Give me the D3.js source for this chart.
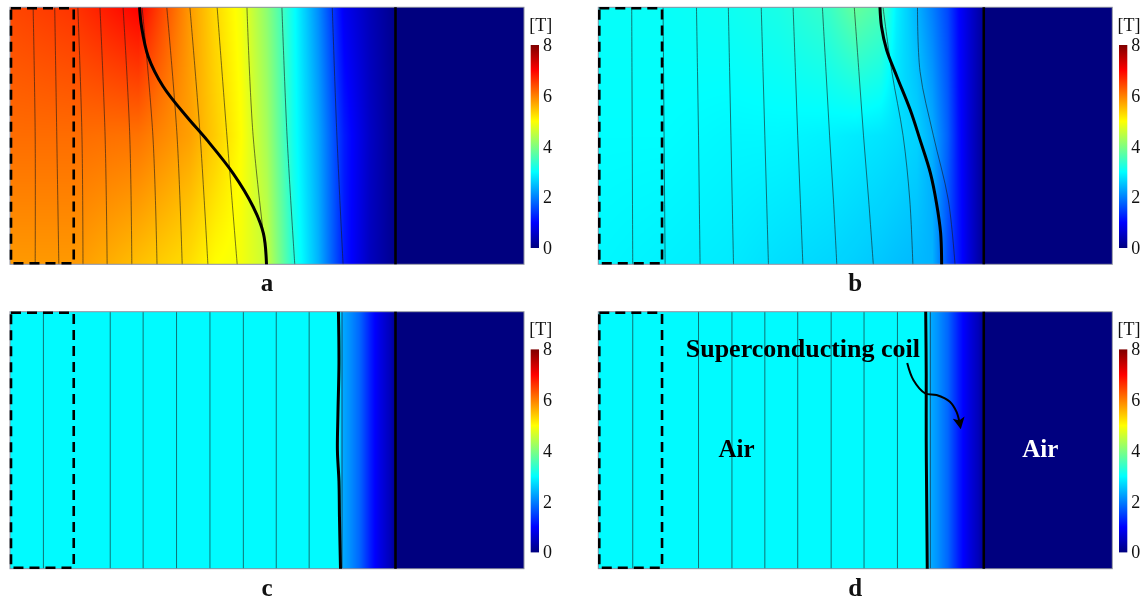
<!DOCTYPE html>
<html><head><meta charset="utf-8">
<script src="https://cdn.jsdelivr.net/npm/d3@7"></script>
<style>
html,body{margin:0;padding:0;background:#fff;}
#wrap{position:relative;width:1145px;height:600px;overflow:hidden;}
#wrap canvas,#wrap svg{position:absolute;left:0;top:0;}
</style></head><body><div id="wrap"></div>
<script>
// ---------- data (model units: x 0..100, y 0..50 from top) ----------
const panelNames = ["a", "b", "c", "d"];
const yLevels = [0, 25, 50];
const yLevels5 = [0, 12.5, 25, 37.5, 50];

// field |B| [T] sampled at columns, for top / middle / bottom rows
const aCols = [0, 12.5, 25, 35, 40, 45, 50, 55, 60, 65, 70, 75, 75.5, 100];
const aTop  = [6.45, 6.6, 7.0, 5.8, 5.3, 4.9, 4.1, 3.1, 2.1, 0.9, 0.45, 0.1, 0, 0];
const aMid  = [6.15, 6.15, 6.1, 5.75, 5.4, 5.0, 4.3, 3.15, 2.3, 1.2, 0.55, 0.1, 0, 0];
const aBot  = [5.8, 5.8, 5.5, 5.25, 5.0, 4.9, 4.55, 3.3, 2.4, 1.2, 0.5, 0.1, 0, 0];

const bCols = [0, 12.5, 25, 35, 45, 50, 55, 58, 62, 65, 68, 70, 72, 75, 75.5, 100];
const bTop  = [3.05, 3.05, 3.1, 3.2, 3.45, 3.8, 3.6, 2.9, 2.4, 2.0, 1.55, 1.05, 0.7, 0.2, 0, 0];
const bMid  = [3.0, 3.0, 2.95, 2.95, 2.9, 2.85, 2.8, 2.75, 2.65, 2.35, 1.75, 1.15, 0.7, 0.15, 0, 0];
const bBot  = [2.95, 2.9, 2.85, 2.75, 2.68, 2.62, 2.55, 2.5, 2.45, 2.4, 1.6, 1.2, 0.75, 0.15, 0, 0];

const cCols = [0, 64, 64.6, 66, 68, 70, 71, 72, 74, 75, 75.5, 100];
const cRow  = [2.97, 2.97, 2.35, 2.15, 1.8, 1.25, 1.0, 0.8, 0.45, 0.15, 0, 0];
const dCols = [0, 64, 64.6, 66, 68, 70, 71, 72, 74, 75, 75.5, 100];
const dRow  = [2.97, 2.97, 2.35, 2.15, 1.8, 1.25, 1.0, 0.8, 0.45, 0.15, 0, 0];

// thin flux lines: x at top / middle / bottom (panel a), at five levels (panel b)
const aLinesTop = [4.5, 8.7, 13.2, 17.5, 22.0, 25.7, 30.5, 35.0, 40.3, 46.1, 52.9, 62.7];
const aLinesMid = [4.9, 9.1, 14.0, 18.5, 23.3, 27.8, 32.5, 37.0, 42.2, 47.3, 53.9, 63.6];
const aLinesBot = [4.9, 9.5, 14.2, 18.9, 23.7, 28.6, 33.5, 38.5, 44.2, 50.0, 55.4, 64.8];
const bLine1  = [6.5, 6.55, 6.6, 6.65, 6.7];
const bLine2  = [12.6, 12.7, 12.8, 12.9, 13.0];
const bLine3  = [19.1, 19.3, 19.5, 19.65, 19.8];
const bLine4  = [25.3, 25.55, 25.8, 26.05, 26.3];
const bLine5  = [31.7, 32.05, 32.4, 32.75, 33.1];
const bLine6  = [37.9, 38.35, 38.8, 39.3, 39.8];
const bLine7  = [43.6, 44.3, 45.0, 45.75, 46.4];
const bLine8  = [49.8, 50.7, 51.6, 52.6, 53.5];
const bLine9  = [55.4, 57.1, 59.3, 60.6, 61.2];
const bLine10 = [62.1, 62.6, 65.2, 68.1, 69.4];
const cLines = [6.5, 19.5, 25.9, 32.4, 38.9, 45.4, 51.8, 58.2, 64.6];
const dLines = [6.7, 19.5, 26.0, 32.4, 38.8, 45.3, 51.7, 58.2, 64.6];

// thick curve (penetration front)
const aCoilX = [25.2, 25.6, 26.9, 29.8, 34.4, 38.3, 43.4, 47.3, 49.3, 49.9];
const aCoilY = [0, 3.8, 9.6, 15.4, 21.3, 25.8, 32.3, 38.8, 44.0, 50];
const bCoilX = [54.8, 55.1, 56.1, 58.1, 60.7, 62.6, 64.6, 65.8, 66.6, 66.8];
const bCoilY = [0, 3.8, 8.3, 13.5, 20.0, 25.8, 32.2, 38.1, 43.9, 50];
const cCoilX = [63.9, 64.0, 63.8, 63.7, 64.0, 64.1, 64.3];
const cCoilY = [0, 10, 20, 27, 33, 40, 50];
const dCoilX = [63.7, 63.8, 63.8, 63.9, 64.0];
const dCoilY = [0, 12, 25, 38, 50];

// geometry lines
const wallX = 75;        // solid boundary
const boreX = 12.4;      // dashed region right edge

// annotation (panel d)
const arrowX = [60.1, 61.3, 63.6, 65.8, 68.4, 69.7, 70.4];
const arrowY = [10.0, 13.3, 15.9, 16.2, 17.5, 19.5, 22.2];
const noteText = "Superconducting coil";
const airLabels = ["Air", "Air"];
const airX = [26.9, 86.0];
const airY = [28.3, 28.3];

// colorbar
const cbTicks = [0, 2, 4, 6, 8];
const cbUnit = "[T]";
const jetStops = [0, 1, 3, 5, 7, 8];
const jetColors = ["#00007f", "#0000ff", "#00ffff", "#ffff00", "#ff0000", "#7f0000"];

// ---------- layout ----------
const W = 1145, H = 600;
const PW = 514, PH = 257;
const lefts = [10, 598.3, 10, 598.3];
const tops = [7.3, 7.3, 311.7, 311.7];

const jet = d3.scaleLinear().domain(jetStops).range(jetColors).clamp(true);
const LUT = d3.range(1024).map(i => d3.rgb(jet(i / 1023 * 8)));

const fields = [
  {cols: aCols, rows: [aTop, aMid, aBot]},
  {cols: bCols, rows: [bTop, bMid, bBot]},
  {cols: cCols, rows: [cRow, cRow, cRow]},
  {cols: dCols, rows: [dRow, dRow, dRow]}
];
const bLines = [bLine1, bLine2, bLine3, bLine4, bLine5, bLine6, bLine7, bLine8, bLine9, bLine10];
const thin = [
  aLinesTop.map((t, i) => [[t, 0], [aLinesMid[i], 25], [aLinesBot[i], 50]]),
  bLines.map(l => l.map((v, j) => [v, yLevels5[j]])),
  cLines.map(v => [[v, 0], [v, 50]]),
  dLines.map(v => [[v, 0], [v, 50]])
];
const coils = [
  aCoilX.map((v, i) => [v, aCoilY[i]]),
  bCoilX.map((v, i) => [v, bCoilY[i]]),
  cCoilX.map((v, i) => [v, cCoilY[i]]),
  dCoilX.map((v, i) => [v, dCoilY[i]])
];

const wrap = d3.select("#wrap");
const canvas = wrap.append("canvas").attr("width", W).attr("height", H).node();
const ctx = canvas.getContext("2d");
const img = ctx.createImageData(W, H);
for (let k = 0; k < img.data.length; k += 4) { img.data[k] = 255; img.data[k+1] = 255; img.data[k+2] = 255; img.data[k+3] = 255; }

const svg = wrap.append("svg").attr("width", W).attr("height", H);
const defs = svg.append("defs");
const grad = defs.append("linearGradient").attr("id", "cbgrad")
  .attr("x1", 0).attr("y1", 1).attr("x2", 0).attr("y2", 0);
jetStops.forEach(v => grad.append("stop").attr("offset", v / 8).attr("stop-color", jet(v)));
defs.append("marker").attr("id", "arrowhead").attr("viewBox", "0 0 10 10")
  .attr("refX", 7).attr("refY", 5).attr("markerWidth", 6).attr("markerHeight", 6)
  .attr("markerUnits", "strokeWidth").attr("orient", "auto")
  .append("path").attr("d", "M0,0 L10,5 L0,10 L2.5,5 z").attr("fill", "#000");

const serif = "Liberation Serif, Times New Roman, serif";

panelNames.forEach((name, p) => {
  const x = d3.scaleLinear().domain([0, 100]).range([lefts[p], lefts[p] + PW]);
  const y = d3.scaleLinear().domain([0, 50]).range([tops[p], tops[p] + PH]);
  const f = fields[p];
  const rowScales = f.rows.map(r => d3.scaleLinear().domain(f.cols).range(r));
  const px0 = Math.round(lefts[p]), px1 = Math.round(lefts[p] + PW);
  const py0 = Math.round(tops[p]), py1 = Math.round(tops[p] + PH);
  for (let px = px0; px < px1; px++) {
    const u = x.invert(px + 0.5);
    const colScale = d3.scaleLinear().domain(yLevels).range(rowScales.map(s => s(u)));
    for (let py = py0; py < py1; py++) {
      const v = colScale(y.invert(py + 0.5));
      const c = LUT[Math.max(0, Math.min(1023, Math.round(v / 8 * 1023)))];
      const k = (py * W + px) * 4;
      img.data[k] = c.r; img.data[k+1] = c.g; img.data[k+2] = c.b; img.data[k+3] = 255;
    }
  }

  const g = svg.append("g");
  const line = d3.line().x(d => x(d[0])).y(d => y(d[1])).curve(d3.curveCatmullRom.alpha(0.5));

  // thin flux lines
  g.selectAll("path.thin").data(thin[p]).join("path").attr("class", "thin")
    .attr("d", line).attr("fill", "none").attr("stroke", "#1a1a1a")
    .attr("stroke-opacity", 0.75).attr("stroke-width", 0.8);

  // panel border
  g.append("rect").attr("x", x(0)).attr("y", y(0)).attr("width", x(100) - x(0)).attr("height", y(50) - y(0))
    .attr("fill", "none").attr("stroke", "#8c8fa0").attr("stroke-width", 1);

  // wall line
  g.append("line").attr("x1", x(wallX)).attr("x2", x(wallX)).attr("y1", y(0)).attr("y2", y(50))
    .attr("stroke", "#000").attr("stroke-width", 2.6);

  // thick front curve
  g.append("path").datum(coils[p]).attr("d", line).attr("fill", "none")
    .attr("stroke", "#000").attr("stroke-width", 3);

  // dashed region
  g.append("rect").attr("x", x(0) + 1).attr("y", y(0) + 1).attr("width", x(boreX) - x(0) - 1)
    .attr("height", y(50) - y(0) - 2).attr("fill", "none").attr("stroke", "#000")
    .attr("stroke-width", 2.6).attr("stroke-dasharray", "10,6");

  // colorbar
  const cbX = x(100) + 6.7, cbW = 8.3;
  const cy = d3.scaleLinear().domain([0, 8]).range([tops[p] + 240.7, tops[p] + 37.7]);
  g.append("rect").attr("x", cbX).attr("y", cy(8)).attr("width", cbW).attr("height", cy(0) - cy(8))
    .attr("fill", "url(#cbgrad)");
  g.selectAll("text.tick").data(cbTicks).join("text").attr("class", "tick")
    .attr("x", cbX + cbW + 4).attr("y", d => cy(d) + 6)
    .attr("font-family", serif).attr("font-size", 18)
    .attr("fill", "#111").text(d => d);
  g.append("text").attr("x", cbX + 10).attr("y", tops[p] + 23.5).attr("text-anchor", "middle")
    .attr("font-family", serif).attr("font-size", 18)
    .attr("fill", "#111").text(cbUnit);

  // panel label
  g.append("text").attr("x", x(50)).attr("y", y(50) + 27).attr("text-anchor", "middle")
    .attr("font-family", serif).attr("font-weight", "bold")
    .attr("font-size", 25).attr("fill", "#111").text(name);

  if (name === "d") {
    g.append("path").datum(arrowX.map((v, i) => [v, arrowY[i]])).attr("d", line)
      .attr("fill", "none").attr("stroke", "#000").attr("stroke-width", 2)
      .attr("marker-end", "url(#arrowhead)");
    g.append("text").attr("x", x(39.8)).attr("y", y(8.8)).attr("text-anchor", "middle")
      .attr("font-family", serif).attr("font-weight", "bold")
      .attr("font-size", 26).attr("fill", "#000").text(noteText);
    g.selectAll("text.air").data(airLabels).join("text").attr("class", "air")
      .attr("x", (d, i) => x(airX[i])).attr("y", (d, i) => y(airY[i])).attr("text-anchor", "middle")
      .attr("font-family", serif).attr("font-weight", "bold")
      .attr("font-size", 25).attr("fill", (d, i) => i === 0 ? "#000" : "#fff").text(d => d);
  }
});
ctx.putImageData(img, 0, 0);
</script></body></html>
